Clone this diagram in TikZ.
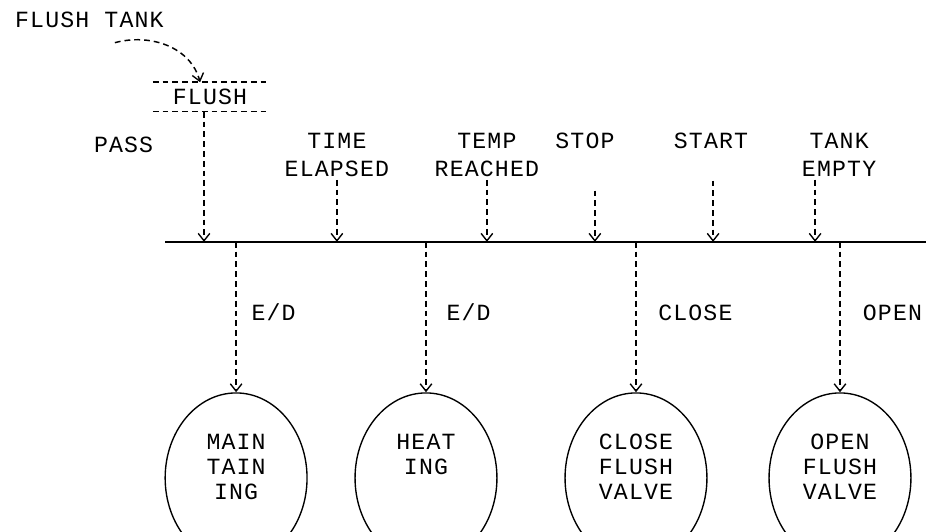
\documentclass[tikz,border=0pt]{standalone}
\usepackage{fontspec}
\newfontfamily\plotfont{Liberation Mono}[LetterSpace=5]
\usepackage{tikz}
\usetikzlibrary{positioning,arrows.meta,calc,shapes.geometric}

\begin{document}
\begin{tikzpicture}[
  font=\plotfont\fontsize{22pt}{26.5pt}\selectfont,
  sig/.style={line width=1.4pt, dash pattern=on 5.5pt off 3.8pt,
    -{Straight Barb[length=7pt,width=11pt,line width=1.3pt]}},
  lbl/.style={inner sep=0pt, align=center},
  state/.style={draw, ellipse, line width=1.3pt, minimum width=4.73cm, minimum height=5.67cm},
  statetxt/.style={inner sep=0pt, align=center, anchor=north,
    font=\plotfont\fontsize{22pt}{23.6pt}\selectfont},
  flushbox/.style={inner sep=0pt, minimum width=3.8cm, minimum height=0.97cm}]
\useasboundingbox (0,0) rectangle (30.867,17.733);
% flush input
\node[lbl] (tank) at (2.98,17.08) {FLUSH TANK};
\node[flushbox] (flush) at (7.0,14.5) {FLUSH};
\draw[line width=1.4pt, dash pattern=on 5.5pt off 3.8pt] (flush.north west) -- (flush.north east);
\draw[line width=1.4pt, dash pattern=on 5.5pt off 3.8pt] (flush.south west) -- (flush.south east);
\draw[sig] ([xshift=0.85cm,yshift=-0.5cm]tank.south) to[out=15, in=105] ([xshift=-0.33cm]flush.north);
\node[lbl] (pass) at (4.12,12.9) {PASS};
% event labels
\node[lbl] (elapsed) at (11.23,12.57) {TIME\\ELAPSED};
\node[lbl] (reached) at (16.23,12.57) {TEMP\\REACHED};
\node[lbl] (stop) at (19.5,13.05) {STOP};
\node[lbl] (start) at (23.7,13.05) {START};
\node[lbl] (empty) at (27.97,12.57) {TANK\\EMPTY};
% bar
\coordinate (barL) at (5.5,9.67);
\coordinate (barR) at (30.867,9.67);
\draw[line width=1.8pt] (barL) -- (barR);
% signals into the bar
\draw[sig] ([xshift=-0.2cm]flush.south) -- ([xshift=-0.2cm]flush.south |- barL);
\draw[sig] ([yshift=-0.1cm]elapsed.south) -- (elapsed.south |- barL);
\draw[sig] ([yshift=-0.1cm]reached.south) -- (reached.south |- barL);
\draw[sig] ([shift={(0.33cm,-1.4cm)}]stop.south) -- ([xshift=0.33cm]stop.south |- barL);
\draw[sig] ([shift={(0.07cm,-1.07cm)}]start.south) -- ([xshift=0.07cm]start.south |- barL);
\draw[sig] ([shift={(-0.8cm,-0.1cm)}]empty.south) -- ([xshift=-0.8cm]empty.south |- barL);
% states
\node[state] (maint) at (7.87,1.8) {};
\node[state] (heat) at (14.2,1.8) {};
\node[state] (closev) at (21.2,1.8) {};
\node[state] (openv) at (28.0,1.8) {};
\node[statetxt] (mainttxt) at ([yshift=-1.4cm]maint.north) {MAIN\\TAIN\\ING};
\node[statetxt] (heattxt) at ([yshift=-1.4cm]heat.north) {HEAT\\ING};
\node[statetxt] (closetxt) at ([yshift=-1.4cm]closev.north) {CLOSE\\FLUSH\\VALVE};
\node[statetxt] (opentxt) at ([yshift=-1.4cm]openv.north) {OPEN\\FLUSH\\VALVE};
% outputs from the bar
\draw[sig] (maint.north |- barL) -- (maint.north);
\draw[sig] (heat.north |- barL) -- (heat.north);
\draw[sig] (closev.north |- barL) -- (closev.north);
\draw[sig] (openv.north |- barL) -- (openv.north);
\node[lbl] (ed1) at (9.12,7.32) {E/D};
\node[lbl] (ed2) at (15.62,7.32) {E/D};
\node[lbl] (closelbl) at (23.18,7.32) {CLOSE};
\node[lbl] (openlbl) at (29.75,7.32) {OPEN};
\end{tikzpicture}
\end{document}
